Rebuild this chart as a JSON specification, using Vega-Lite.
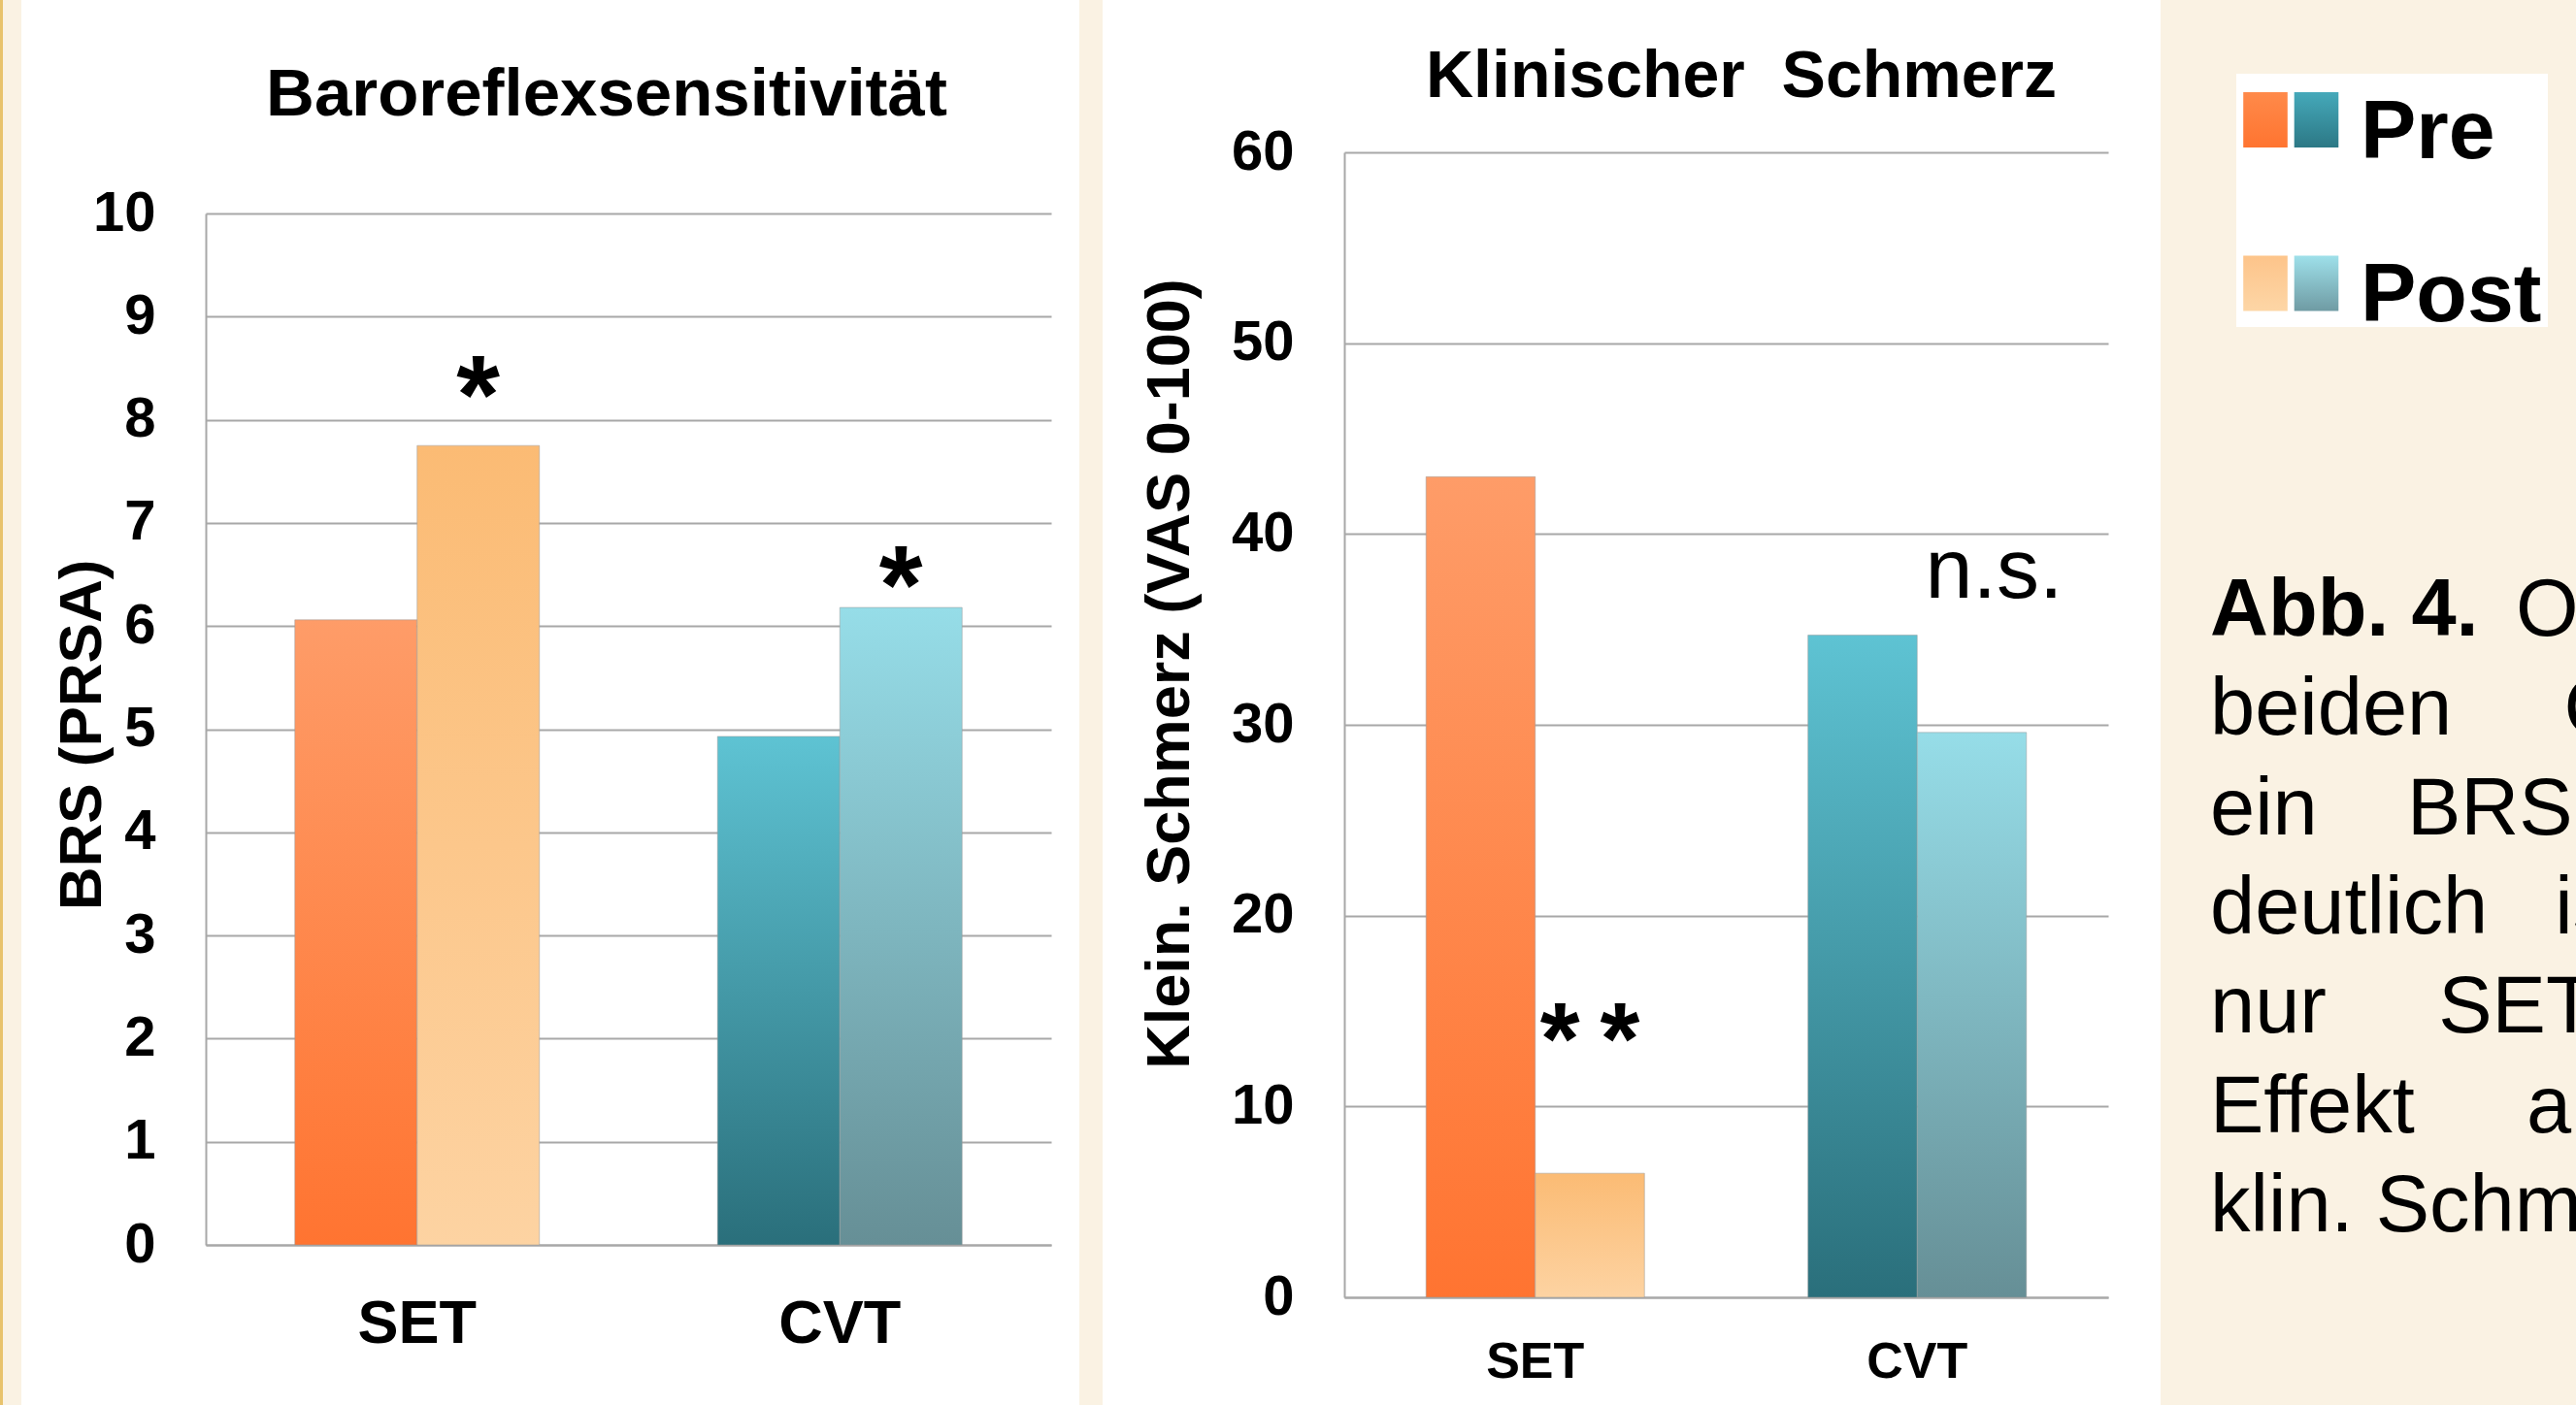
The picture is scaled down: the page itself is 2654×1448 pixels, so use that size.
{
  "$schema": "https://vega.github.io/schema/vega-lite/v6.json",
  "padding": 0,
  "spacing": 0,
  "bounds": "full",
  "background": "#faf2e3",
  "resolve": {"scale": {"xOffset": "independent"}},
  "config": {
    "font": "Liberation Sans",
    "view": {"stroke": null},
    "concat": {"spacing": 0},
    "axis": {
      "labelFont": "Liberation Sans",
      "labelColor": "#000000",
      "labelFontWeight": "bold",
      "titleFont": "Liberation Sans",
      "titleColor": "#000000",
      "titleFontWeight": "bold",
      "gridColor": "#a8a8a8",
      "gridWidth": 2,
      "domainColor": "#a8a8a8",
      "domainWidth": 2,
      "ticks": false,
      "tickSize": 0,
      "labelFlush": false,
      "labelOverlap": false
    }
  },
  "datasets": {
    "brs": [
      {"group": "SET", "time": "Pre", "value": 6.06},
      {"group": "SET", "time": "Post", "value": 7.75, "sig": "*", "sig_y": 8.2},
      {"group": "CVT", "time": "Pre", "value": 4.93},
      {"group": "CVT", "time": "Post", "value": 6.18, "sig": "*", "sig_y": 6.36}
    ],
    "pain": [
      {"group": "SET", "time": "Pre", "value": 43.0},
      {"group": "SET", "time": "Post", "value": 6.5, "sig": "*\u2009*", "sig_y": 13.3},
      {"group": "CVT", "time": "Pre", "value": 34.7},
      {"group": "CVT", "time": "Post", "value": 29.6, "sig": "n.s.", "sig_y": 38.0}
    ],
    "legend": [
      {"group": "SET", "time": "Pre"},
      {"group": "CVT", "time": "Pre"},
      {"group": "SET", "time": "Post"},
      {"group": "CVT", "time": "Post"}
    ],
    "caption": [
      {"line": 1, "style": "bold", "text": "Abb. 4."},
      {"line": 1, "style": "continued", "text": "Obwohl in"},
      {"line": 2, "style": "regular", "text": "beiden\u00a0\u00a0\u00a0\u00a0\u00a0Gruppen"},
      {"line": 3, "style": "regular", "text": "ein\u00a0\u00a0\u00a0\u00a0BRS-Anstieg"},
      {"line": 4, "style": "regular", "text": "deutlich\u00a0\u00a0\u00a0ist, hat"},
      {"line": 5, "style": "regular", "text": "nur\u00a0\u00a0\u00a0\u00a0\u00a0SET\u00a0einen"},
      {"line": 6, "style": "regular", "text": "Effekt\u00a0\u00a0\u00a0\u00a0\u00a0auf den"},
      {"line": 7, "style": "regular", "text": "klin. Schmerz."}
    ]
  },
  "hconcat": [
    {"width": 3, "height": 1448, "view": {"fill": "#e8c36c"}, "data": {"values": []}, "mark": "point"},
    {"width": 19, "height": 1448, "data": {"values": []}, "mark": "point"},
    {
      "width": 1090,
      "height": 1448,
      "view": {"fill": "#ffffff"},
      "data": {"name": "brs"},
      "title": {"text": "Baroreflexsensitivität", "fontSize": 69, "fontWeight": "bold", "color": "#000000", "anchor": "middle", "frame": "group", "baseline": "alphabetic", "offset": -188, "dx": 58},
      "encoding": {
        "x": {
          "field": "group", "type": "nominal", "sort": ["SET", "CVT"],
          "scale": {"range": [190, 1061], "paddingInner": 0.4214, "paddingOuter": 0.2107},
          "axis": {"title": null, "offset": -165, "labelPadding": 50, "labelFontSize": 63, "labelAngle": 0, "grid": false}
        },
        "xOffset": {"field": "time", "type": "nominal", "sort": ["Pre", "Post"]}
      },
      "layer": [
        {
          "mark": {"type": "bar", "stroke": "#9a9a9a", "strokeWidth": 1, "strokeOpacity": 0.5},
          "encoding": {
            "y": {
              "field": "value", "type": "quantitative",
              "scale": {"domain": [0, 10], "range": [1283, 220], "nice": false},
              "axis": {"title": "BRS (PRSA)", "values": [0, 1, 2, 3, 4, 5, 6, 7, 8, 9, 10], "format": "d", "offset": -190, "grid": true, "labelPadding": 52, "labelFontSize": 58, "titleFontSize": 62, "titleX": -109, "titleY": 757, "titleBaseline": "alphabetic"}
            },
            "fill": {
              "condition": [
                {"test": "datum.group === 'SET' && datum.time === 'Pre'", "value": {"gradient": "linear", "x1": 0, "y1": 0, "x2": 0, "y2": 1, "stops": [{"offset": 0, "color": "#fe9c68"}, {"offset": 1, "color": "#ff7431"}]}},
                {"test": "datum.group === 'SET' && datum.time === 'Post'", "value": {"gradient": "linear", "x1": 0, "y1": 0, "x2": 0, "y2": 1, "stops": [{"offset": 0, "color": "#fbbb74"}, {"offset": 1, "color": "#fdd3a2"}]}},
                {"test": "datum.group === 'CVT' && datum.time === 'Pre'", "value": {"gradient": "linear", "x1": 0, "y1": 0, "x2": 0, "y2": 1, "stops": [{"offset": 0, "color": "#5ec3d3"}, {"offset": 1, "color": "#2a6f7b"}]}}
              ],
              "value": {"gradient": "linear", "x1": 0, "y1": 0, "x2": 0, "y2": 1, "stops": [{"offset": 0, "color": "#96dde8"}, {"offset": 1, "color": "#668f96"}]}
            }
          }
        },
        {
          "transform": [{"filter": "datum.sig != null"}],
          "mark": {"type": "text", "fontSize": 115, "fontWeight": "bold", "baseline": "middle", "align": "center", "color": "#000000"},
          "encoding": {
            "y": {"field": "sig_y", "type": "quantitative", "title": "BRS (PRSA)"},
            "text": {"field": "sig"}
          }
        }
      ]
    },
    {"width": 24, "height": 1448, "data": {"values": []}, "mark": "point"},
    {
      "width": 1090,
      "height": 1448,
      "view": {"fill": "#ffffff"},
      "data": {"name": "pain"},
      "title": {"text": "Klinischer\u00a0\u00a0Schmerz", "fontSize": 68, "fontWeight": "bold", "color": "#000000", "anchor": "middle", "frame": "group", "baseline": "alphabetic", "offset": -168, "dx": 113},
      "encoding": {
        "x": {
          "field": "group", "type": "nominal", "sort": ["SET", "CVT"],
          "scale": {"range": [249, 1036], "paddingInner": 0.428, "paddingOuter": 0.214},
          "axis": {"title": null, "offset": -111, "labelPadding": 41, "labelFontSize": 52, "labelAngle": 0, "grid": false}
        },
        "xOffset": {"field": "time", "type": "nominal", "sort": ["Pre", "Post"]}
      },
      "layer": [
        {
          "mark": {"type": "bar", "stroke": "#9a9a9a", "strokeWidth": 1, "strokeOpacity": 0.5},
          "encoding": {
            "y": {
              "field": "value", "type": "quantitative",
              "scale": {"domain": [0, 60], "range": [1337, 157], "nice": false},
              "axis": {"title": "Klein. Schmerz (VAS 0-100)", "values": [0, 10, 20, 30, 40, 50, 60], "format": "d", "offset": -249, "grid": true, "labelPadding": 52, "labelFontSize": 58, "titleFontSize": 63, "titleX": -161, "titleY": 694, "titleBaseline": "alphabetic"}
            },
            "fill": {
              "condition": [
                {"test": "datum.group === 'SET' && datum.time === 'Pre'", "value": {"gradient": "linear", "x1": 0, "y1": 0, "x2": 0, "y2": 1, "stops": [{"offset": 0, "color": "#fe9c68"}, {"offset": 1, "color": "#ff7431"}]}},
                {"test": "datum.group === 'SET' && datum.time === 'Post'", "value": {"gradient": "linear", "x1": 0, "y1": 0, "x2": 0, "y2": 1, "stops": [{"offset": 0, "color": "#fbbb74"}, {"offset": 1, "color": "#fdd3a2"}]}},
                {"test": "datum.group === 'CVT' && datum.time === 'Pre'", "value": {"gradient": "linear", "x1": 0, "y1": 0, "x2": 0, "y2": 1, "stops": [{"offset": 0, "color": "#5ec3d3"}, {"offset": 1, "color": "#2a6f7b"}]}}
              ],
              "value": {"gradient": "linear", "x1": 0, "y1": 0, "x2": 0, "y2": 1, "stops": [{"offset": 0, "color": "#96dde8"}, {"offset": 1, "color": "#668f96"}]}
            }
          }
        },
        {
          "transform": [{"filter": "datum.sig !== 'n.s.' && datum.sig != null"}],
          "mark": {"type": "text", "fontSize": 105, "fontWeight": "bold", "baseline": "middle", "align": "center", "color": "#000000"},
          "encoding": {
            "y": {"field": "sig_y", "type": "quantitative", "title": "Klein. Schmerz (VAS 0-100)"},
            "text": {"field": "sig"}
          }
        },
        {
          "transform": [{"filter": "datum.sig === 'n.s.'"}],
          "mark": {"type": "text", "fontSize": 88, "fontWeight": "normal", "baseline": "middle", "align": "center", "dx": 23, "color": "#000000"},
          "encoding": {
            "y": {"field": "sig_y", "type": "quantitative", "title": "Klein. Schmerz (VAS 0-100)"},
            "text": {"field": "sig"}
          }
        }
      ]
    },
    {
      "spacing": 0,
      "vconcat": [
        {"width": 1, "height": 76, "data": {"values": []}, "mark": "point"},
        {
          "spacing": 0,
          "hconcat": [
            {"width": 78, "height": 261, "data": {"values": []}, "mark": "point"},
            {
              "width": 321,
              "height": 261,
              "view": {"fill": "#ffffff"},
              "data": {"name": "legend"},
              "encoding": {
                "x": {"field": "group", "type": "nominal", "scale": {"type": "point", "domain": ["SET", "CVT"], "range": [30, 82.5], "padding": 0}, "axis": null},
                "y": {"field": "time", "type": "nominal", "scale": {"type": "point", "domain": ["Pre", "Post"], "range": [47.5, 216], "padding": 0}, "axis": null}
              },
              "layer": [
                {
                  "mark": {"type": "point", "shape": "M-0.8,-1H0.8V1H-0.8Z", "size": 3249, "filled": true, "opacity": 1, "strokeWidth": 0},
                  "encoding": {
                    "fill": {
                      "condition": [
                        {"test": "datum.group === 'SET' && datum.time === 'Pre'", "value": {"gradient": "linear", "x1": 0, "y1": 0, "x2": 0, "y2": 1, "stops": [{"offset": 0, "color": "#ff8a4a"}, {"offset": 1, "color": "#ff7430"}]}},
                        {"test": "datum.group === 'SET' && datum.time === 'Post'", "value": {"gradient": "linear", "x1": 0, "y1": 0, "x2": 0, "y2": 1, "stops": [{"offset": 0, "color": "#fdc48a"}, {"offset": 1, "color": "#fdd6a6"}]}},
                        {"test": "datum.group === 'CVT' && datum.time === 'Pre'", "value": {"gradient": "linear", "x1": 0, "y1": 0, "x2": 0, "y2": 1, "stops": [{"offset": 0, "color": "#45a9ba"}, {"offset": 1, "color": "#2c7885"}]}}
                      ],
                      "value": {"gradient": "linear", "x1": 0, "y1": 0, "x2": 0, "y2": 1, "stops": [{"offset": 0, "color": "#9ee0ea"}, {"offset": 1, "color": "#6f9ba3"}]}
                    }
                  }
                },
                {
                  "transform": [{"filter": "datum.group === 'CVT'"}],
                  "mark": {"type": "text", "align": "left", "baseline": "alphabetic", "dx": 45.5, "dy": 39, "fontSize": 86, "fontWeight": "bold", "color": "#000000"},
                  "encoding": {"text": {"field": "time"}}
                }
              ]
            }
          ]
        },
        {"width": 1, "height": 223, "data": {"values": []}, "mark": "point"},
        {
          "spacing": 0,
          "hconcat": [
            {"width": 51, "height": 782, "data": {"values": []}, "mark": "point"},
            {
              "width": 377,
              "height": 782,
              "data": {"name": "caption"},
              "encoding": {
                "x": {"value": 0},
                "y": {"field": "line", "type": "ordinal", "scale": {"type": "point", "padding": 0.82}, "axis": null},
                "text": {"field": "text"}
              },
              "layer": [
                {
                  "transform": [{"filter": "datum.style === 'bold'"}],
                  "mark": {"type": "text", "clip": true, "align": "left", "baseline": "alphabetic", "fontSize": 83, "fontWeight": "bold", "color": "#000000"}
                },
                {
                  "transform": [{"filter": "datum.style === 'regular'"}],
                  "mark": {"type": "text", "clip": true, "align": "left", "baseline": "alphabetic", "fontSize": 83, "fontWeight": "normal", "color": "#000000"}
                },
                {
                  "transform": [{"filter": "datum.style === 'continued'"}],
                  "mark": {"type": "text", "clip": true, "align": "left", "baseline": "alphabetic", "dx": 315, "fontSize": 83, "fontWeight": "normal", "color": "#000000"}
                }
              ]
            }
          ]
        }
      ]
    }
  ]
}
